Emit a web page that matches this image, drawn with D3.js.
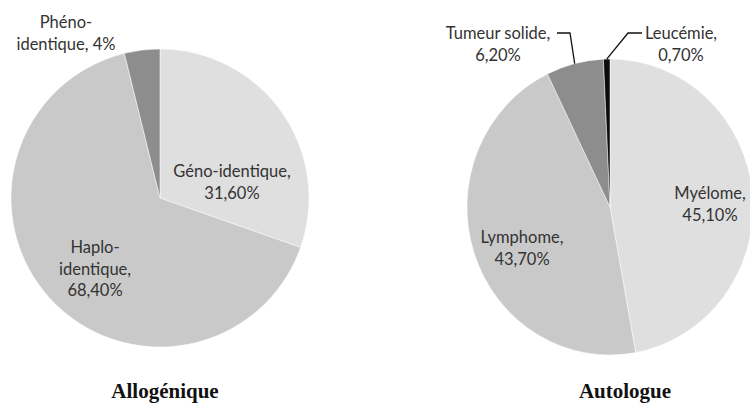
<!DOCTYPE html>
<html>
<head>
<meta charset="utf-8">
<script src="https://cdn.jsdelivr.net/npm/d3@7"></script>
<style>
  html, body { margin: 0; padding: 0; background: #fff; }
  svg { display: block; }
  .lbl { font-family: Lato, "Open Sans", sans-serif; font-size: 16.5px; fill: #333; }
  .ttl { font-family: "Liberation Serif", "Times New Roman", serif; font-weight: bold; font-size: 21px; fill: #111; }
</style>
</head>
<body>
<svg id="chart" width="750" height="404"></svg>
<script>
// ---- data ----
const alloCategories = ["Géno-identique", "Haplo-identique", "Phéno-identique"];
const alloValues = [31.6, 68.4, 4];
const alloValueLabels = ["31,60%", "68,40%", "4%"];

const autoCategories = ["Myélome", "Lymphome", "Tumeur solide", "Leucémie"];
const autoValues = [45.1, 43.7, 6.2, 0.7];
const autoValueLabels = ["45,10%", "43,70%", "6,20%", "0,70%"];

const chartTitles = ["Allogénique", "Autologue"];

// ---- layout / style (not data) ----
const alloColors = ["#dfdfdf", "#c9c9c9", "#8d8d8d"];
const autoColors = ["#dfdfdf", "#c9c9c9", "#8d8d8d", "#0a0a0a"];

// label text lines per slice (split of category + value)
const alloLines = [
  ["Géno-identique,", alloValueLabels[0]],
  ["Haplo-", "identique,", alloValueLabels[1]],
  ["Phéno-", "identique, " + alloValueLabels[2]]
];
const autoLines = [
  [autoCategories[0] + ",", autoValueLabels[0]],
  [autoCategories[1] + ",", autoValueLabels[1]],
  [autoCategories[2] + ",", autoValueLabels[2]],
  [autoCategories[3] + ",", autoValueLabels[3]]
];

// label anchor offsets relative to pie center (first baseline)
const alloLabelPos = [[72, -21], [-65, 55], [-94, -170]];
const autoLabelPos = [[100, -8], [-88, 36], [-112, -168], [71, -168]];
// leader line elbows relative to pie center: [start, elbow] (end is on arc)
const autoLeaders = [null, null, [[-53, -174], [-40, -174]], [[32, -174], [18, -174]]];

const svg = d3.select("#chart");

function drawPie(cfg) {
  const g = svg.append("g").attr("transform", `translate(${cfg.cx},${cfg.cy})`);
  const pie = d3.pie().sort(null).value(d => d);
  const arcs = pie(cfg.values);
  const R = cfg.ry;
  const sx = cfg.rx / cfg.ry;
  const arc = d3.arc().innerRadius(0).outerRadius(R);

  const pg = g.append("g").attr("transform", `scale(${sx},1)`);
  pg.selectAll("path").data(arcs).join("path")
    .attr("d", arc)
    .attr("fill", (d, i) => cfg.colors[i])
    .attr("stroke", "#ffffff")
    .attr("stroke-width", 0.5);

  // leader lines
  arcs.forEach((d, i) => {
    const L = cfg.leaders && cfg.leaders[i];
    if (!L) return;
    const mid = (d.startAngle + d.endAngle) / 2;
    const ex = Math.sin(mid) * cfg.rx;
    const ey = -Math.cos(mid) * cfg.ry;
    g.append("polyline")
      .attr("points", [L[0], L[1], [ex, ey]].map(p => p.join(",")).join(" "))
      .attr("fill", "none")
      .attr("stroke", "#111")
      .attr("stroke-width", 1.3);
  });

  // labels
  arcs.forEach((d, i) => {
    const [lx, ly] = cfg.labelPos[i];
    const t = g.append("text").attr("class", "lbl")
      .attr("text-anchor", "middle")
      .attr("x", lx).attr("y", ly);
    cfg.lines[i].forEach((s, k) => {
      t.append("tspan").attr("x", lx).attr("y", ly + k * cfg.lineH).text(s);
    });
  });

  svg.append("text").attr("class", "ttl")
    .attr("text-anchor", "middle")
    .attr("x", cfg.titleX).attr("y", cfg.titleY)
    .text(cfg.title);
}

drawPie({
  cx: 160, cy: 198, rx: 149, ry: 149,
  values: alloValues, colors: alloColors,
  lines: alloLines, labelPos: alloLabelPos, lineH: 21.5,
  leaders: null,
  title: chartTitles[0], titleX: 165, titleY: 398
});

drawPie({
  cx: 610, cy: 207, rx: 143, ry: 148,
  values: autoValues, colors: autoColors,
  lines: autoLines, labelPos: autoLabelPos, lineH: 22,
  leaders: autoLeaders,
  title: chartTitles[1], titleX: 625, titleY: 398
});
</script>
</body>
</html>
